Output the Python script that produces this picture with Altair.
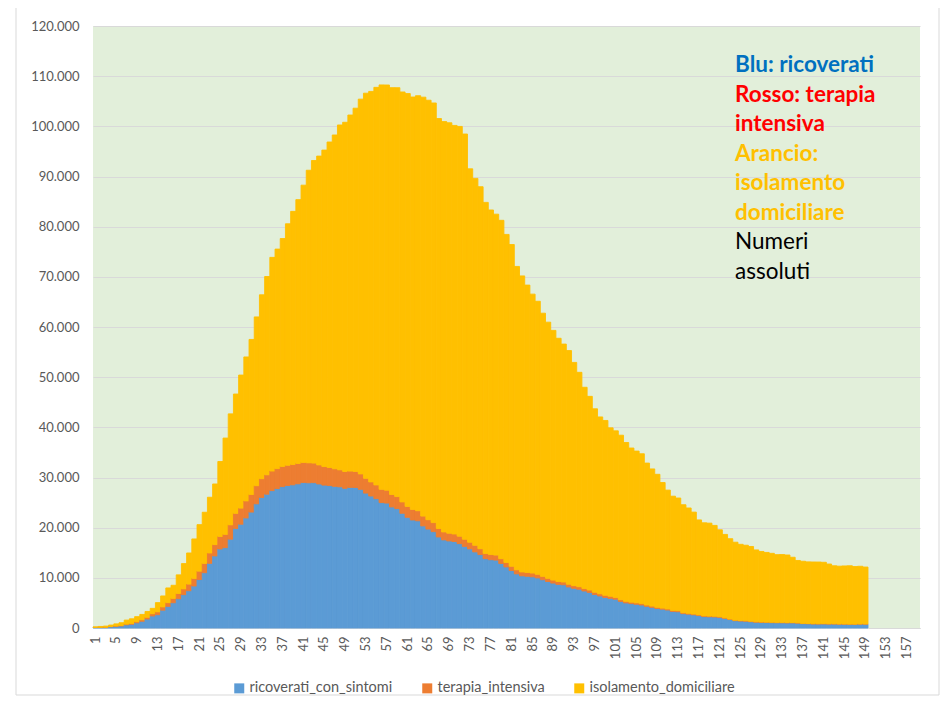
import altair as alt
import pandas as pd

# ---- data ----
giorni = list(range(1, 150))
asse_giorni = list(range(1, 160))
tick_giorni = list(range(1, 160, 4))

ricoverati = [
    101, 114, 128, 248, 345, 401, 639, 742, 1034, 1346, 1790, 2394, 2651, 3557, 4316, 5038,
    5838, 6650, 7426, 8372, 9663, 11025, 12894, 14363, 15757, 16020, 17708, 19846, 20692,
    21937, 23112, 24753, 26029, 26676, 27386, 27795, 28192,
    28403, 28540, 28741, 29010, 28949, 28976, 28718, 28485, 28399, 28242,
    28144, 27847, 28023, 28011, 27643, 26893, 26309, 25786, 25007, 24906,
    24134, 23805, 22871, 22068, 21533, 21372, 20353, 19723, 19210, 18149,
    17569, 17357, 17242, 16823, 16270, 15769, 15174, 14636, 13834, 13618,
    13539, 12865, 12172, 11453, 10792, 10400, 10311, 10207, 9991, 9624,
    9269, 8957, 8695, 8613, 8185, 7917, 7729, 7379, 7094, 6680, 6387,
    6099, 5916, 5742, 5301, 5002, 4864, 4729, 4581, 4320, 4114,
    3893, 3747, 3589, 3301, 3242, 2866, 2762, 2626, 2474, 2277,
    2227, 2197, 2131, 1920, 1693, 1460, 1387, 1356, 1247, 1153,
    1114, 1090, 1066, 1041, 1034, 1006, 1015, 979, 869, 832,
    798, 791, 811, 782, 790, 757, 754, 730, 729, 764, 768,
]
terapia = [
    26, 35, 36, 56, 64, 105, 140, 166, 229, 295,
    351, 462, 567, 650, 733, 877, 1028, 1153, 1328, 1518,
    1672, 1851, 2060, 2257, 2498, 2655, 2857, 3009, 3204, 3396,
    3489, 3612, 3732, 3856, 3906, 3981, 4023,
    4035, 4053, 4068, 3994, 3977, 3898, 3792, 3693, 3605, 3497,
    3381, 3343, 3260, 3186, 3079, 2936, 2812, 2733, 2635, 2573,
    2471, 2384, 2267, 2173, 2102, 2009, 1956, 1863, 1795, 1694,
    1578, 1539, 1501, 1479, 1427, 1333, 1311, 1168, 1034, 1027,
    999, 952, 893, 855, 808, 775, 762, 749, 716, 676,
    640, 595, 572, 553, 541, 521, 505, 489, 475, 450, 435,
    424, 408, 353, 338, 316, 293, 287, 283, 263, 249,
    236, 227, 220, 209, 207, 178, 168, 163, 161, 152,
    148, 152, 127, 115, 107, 103, 100, 99, 97, 94,
    87, 82, 84, 83, 85, 80, 80, 67, 64, 62,
    69, 68, 65, 66, 65, 58, 60, 54, 49, 46, 48,
]
isolamento = [
    94, 162, 221, 284, 412, 543, 798, 927, 1000, 1065,
    1155, 1060, 1843, 2180, 2936, 2599, 3724, 5036, 6201, 7860,
    9268, 10197, 11108, 12090, 14935, 19185, 22116, 23783, 26522, 28697,
    30920, 33648, 36653, 39533, 42588, 43752, 45420,
    48134, 50456, 52579, 55270, 58320, 60313, 61557, 63084, 64873, 66534,
    68744, 69619, 70970, 72419, 74696, 76778, 77841, 79252, 80615, 80758,
    81104, 81510, 81710, 82286, 82212, 82722, 83504, 83619, 83652, 81708,
    81796, 81808, 81436, 81678, 80770, 74426, 73139, 72157, 69974, 68679,
    67950, 67449, 65392, 64132, 60470, 59012, 57278, 55597, 54422, 52452,
    51051, 49770, 48485, 47428, 46574, 44504, 42732, 40118, 38606, 36561, 35253,
    34844, 33569, 33202, 32790, 31658, 30720, 30246, 29866, 28289, 27347,
    26508, 25023, 23676, 22764, 22460, 21525, 20995, 20312, 18908, 18543,
    18525, 18101, 17315, 16620, 16000, 15537, 15194, 15041, 14904, 14316,
    14054, 13888, 13734, 13497, 13523, 13464, 13005, 12413, 12370, 12285,
    12290, 12291, 12224, 11902, 11549, 11507, 11554, 11620, 11470, 11493, 11334,
]
serie = ["ricoverati_con_sintomi", "terapia_intensiva", "isolamento_domiciliare"]
colori = ["#5B9BD5", "#ED7D31", "#FFC000"]
y_ticks = list(range(0, 120001, 10000))

rows = []
for i, g in enumerate(giorni):
    for k, (nome, vals) in enumerate(zip(serie, [ricoverati, terapia, isolamento])):
        rows.append({"giorno": g, "serie": nome, "ord": k, "valore": vals[i]})
df = pd.DataFrame(rows)

FONT = "Lato"
GREY = "#595959"
W, H = 827, 602

color_scale = alt.Scale(domain=serie, range=colori)

bars = alt.Chart(df).mark_bar(strokeWidth=0.9).encode(
    x=alt.X("giorno:O",
            scale=alt.Scale(domain=asse_giorni, paddingInner=0, paddingOuter=0),
            axis=alt.Axis(values=tick_giorni, labelAngle=-90, title=None, ticks=False,
                          domainColor="#D9D9D9", labelPadding=8, grid=False)),
    y=alt.Y("valore:Q", stack="zero",
            scale=alt.Scale(domain=[0, 120000], nice=False),
            axis=alt.Axis(values=y_ticks, title=None, ticks=False, domain=False,
                          labelPadding=14, gridColor="#D9D9D9",
                          labelExpr="replace(format(datum.value, ','), ',', '.')")),
    color=alt.Color("serie:N", scale=color_scale, sort=serie,
                    legend=alt.Legend(title=None, orient="none", direction="horizontal",
                                      legendX=139, legendY=655, symbolType="square",
                                      symbolSize=100, symbolStrokeWidth=0,
                                      labelFont=FONT, labelFontSize=14.5, labelColor=GREY,
                                      columnPadding=27, labelOffset=3)),
    stroke=alt.Stroke("serie:N", scale=color_scale, legend=None),
    order=alt.Order("ord:Q", sort="ascending"),
)

one = pd.DataFrame({"k": [0]})

border = alt.Chart(one).mark_rect(fill=None, stroke="#D9D9D9", strokeWidth=1).encode(
    x=alt.value(-77), x2=alt.value(846), y=alt.value(-19), y2=alt.value(669)
)

TX = 642
LH = 29.5

def testo(lines, color, y, weight):
    return alt.Chart(one).mark_text(
        text=lines, align="left", baseline="alphabetic", font=FONT, fontSize=22.5,
        fontWeight=weight, color=color, lineHeight=LH
    ).encode(x=alt.value(TX), y=alt.value(y))

t1 = testo(["Blu: ricoverati"], "#0070C0", 71.5 - 26, "bold")
t2 = testo(["Rosso: terapia", "intensiva"], "#FF0000", 101.5 - 26, "bold")
t3 = testo(["Arancio:", "isolamento", "domiciliare"], "#FFC000", 160.5 - 26, "bold")
t4 = testo(["Numeri", "assoluti"], "#000000", 249 - 26, "normal")

chart = alt.layer(border, bars, t1, t2, t3, t4).properties(
    width=W, height=H,
    padding={"left": 85, "top": 18, "right": 20, "bottom": 68},
    autosize=alt.AutoSizeParams(type="none"),
    background="white",
).configure_view(
    fill="#E2EFDA", stroke=None
).configure_axis(
    labelFont=FONT, labelFontSize=13, labelColor=GREY
)

chart.save("out.html", embed_options={"renderer": "svg", "actions": False})
